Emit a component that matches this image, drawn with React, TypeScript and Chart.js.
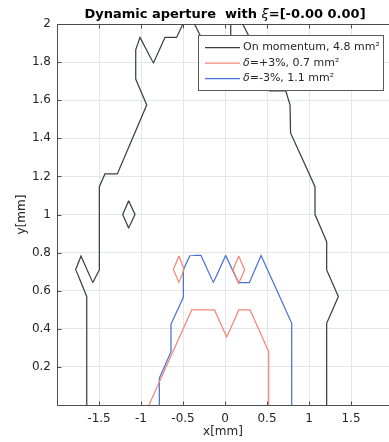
import React, { useEffect, useRef } from 'react';
import { Chart, registerables } from 'chart.js';

Chart.register(...registerables);

// ---- data (mm) ----
const onMomentumX = [-1.646, -1.646, -1.777, -1.714, -1.575, -1.496, -1.496, -1.429, -1.282, -0.932, -1.063, -1.063, -1.012, -0.853, -0.714, -0.575, -0.434, -0.298, -0.22, 0.0, 0.068, 0.068, 0.138, 0.277, 0.42, 0.53, 0.723, 0.774, 0.78, 1.071, 1.071, 1.21, 1.21, 1.349, 1.21, 1.21];
const onMomentumY = [0, 0.569, 0.712, 0.782, 0.642, 0.709, 1.146, 1.213, 1.213, 1.575, 1.711, 1.864, 1.93, 1.794, 1.93, 1.93, 2.063, 1.942, 1.87, 1.87, 1.93, 2.063, 2.063, 1.942, 1.78, 1.649, 1.649, 1.575, 1.428, 1.146, 1.0, 0.857, 0.709, 0.569, 0.429, 0];
const onMomentumIslandX = [-1.147, -1.071, -1.147, -1.218, -1.147];
const onMomentumIslandY = [1.072, 1.0, 0.929, 1.0, 1.072];

const plusX = [-0.905, -0.397, -0.125, 0.02, 0.165, 0.298, 0.52, 0.52];
const plusY = [0, 0.499, 0.499, 0.357, 0.499, 0.499, 0.28, 0];
const plusIslandAX = [-0.548, -0.488, -0.548, -0.615, -0.548];
const plusIslandAY = [0.782, 0.712, 0.642, 0.712, 0.782];
const plusIslandBX = [0.163, 0.234, 0.163, 0.095, 0.163];
const plusIslandBY = [0.782, 0.71, 0.64, 0.71, 0.782];

const minusX = [-0.782, -0.782, -0.643, -0.643, -0.496, -0.496, -0.417, -0.286, -0.139, 0.008, 0.159, 0.29, 0.429, 0.794, 0.794];
const minusY = [0, 0.14, 0.28, 0.425, 0.565, 0.71, 0.785, 0.785, 0.642, 0.785, 0.642, 0.642, 0.785, 0.429, 0];

const xTickValues = [-1.5, -1, -0.5, 0, 0.5, 1, 1.5];
const legendLabels = ['On momentum, 4.8 mm²', 'δ=+3%, 0.7 mm²', 'δ=-3%, 1.1 mm²'];
const titlePrefix = 'Dynamic aperture  with ';
const titleSymbol = 'ξ';
const titleSuffix = '=[-0.00 0.00]';
const xTitle = 'x[mm]';
const yTitle = 'y[mm]';

const X_MIN = -2;
const X_MAX = 1.952; // the right part of the axes is cut off by the picture edge
const COLORS = ['#3c4040', '#f4877a', '#4a72d6'];
const FONT = "'DejaVu Sans', sans-serif";
const TEXT = '#262626';
const GRID = '#e4e7ea';

function pts(xs: number[], ys: number[]) {
  return xs.map((x, i) => ({ x, y: ys[i] }));
}

function ds(xs: number[], ys: number[], color: string) {
  return {
    data: pts(xs, ys),
    borderColor: color,
    backgroundColor: color,
    borderWidth: 1.25,
    pointRadius: 0,
    pointHoverRadius: 0,
    tension: 0.000001,
    fill: false,
  };
}

export default function App() {
  const ref = useRef<HTMLCanvasElement>(null);

  useEffect(() => {
    if (!ref.current) return;

    const frame = {
      id: 'matlabFrame',
      beforeDatasetsDraw(chart: any) {
        const { ctx, chartArea: a } = chart;
        const xs = chart.scales.x;
        const ys = chart.scales.y;
        const L = Math.round(a.left) + 0.5;
        const T = Math.round(a.top) + 0.5;
        const B = Math.round(a.bottom) + 0.5;
        ctx.save();
        ctx.strokeStyle = '#4d4d4d';
        ctx.lineWidth = 1;
        ctx.beginPath();
        const tl = 4;
        xTickValues.forEach((v) => {
          const px = Math.round(xs.getPixelForValue(v)) + 0.5;
          ctx.moveTo(px, B);
          ctx.lineTo(px, B - tl);
          ctx.moveTo(px, T);
          ctx.lineTo(px, T + tl);
        });
        ys.ticks.forEach((t: any) => {
          const py = Math.round(ys.getPixelForValue(t.value)) + 0.5;
          ctx.moveTo(L, py);
          ctx.lineTo(L + tl, py);
        });
        // axes box: top, left, bottom (right side lies beyond the picture)
        ctx.moveTo(a.right + 2, T);
        ctx.lineTo(L, T);
        ctx.lineTo(L, B);
        ctx.lineTo(a.right + 2, B);
        ctx.stroke();
        ctx.restore();
      },
      afterDatasetsDraw(chart: any) {
        const { ctx, chartArea: a } = chart;
        const xs = chart.scales.x;
        // title centred over the full axes (x from -2 to 2), italic symbol
        const cx = xs.getPixelForValue(0);
        ctx.save();
        ctx.fillStyle = '#000';
        ctx.textBaseline = 'middle';
        ctx.textAlign = 'left';
        const bold = `bold 13px ${FONT}`;
        const ital = `italic 13px ${FONT}`;
        ctx.font = bold;
        const w1 = ctx.measureText(titlePrefix).width;
        const w3 = ctx.measureText(titleSuffix).width;
        ctx.font = ital;
        const w2 = ctx.measureText(titleSymbol).width;
        let tx = cx - (w1 + w2 + w3) / 2;
        const ty = a.top - 9;
        ctx.font = bold;
        ctx.fillText(titlePrefix, tx, ty);
        tx += w1;
        ctx.font = ital;
        ctx.fillText(titleSymbol, tx, ty);
        tx += w2;
        ctx.font = bold;
        ctx.fillText(titleSuffix, tx, ty);
        ctx.restore();

        // legend box
        const w = 185;
        const h = 55;
        const x0 = Math.round(xs.getPixelForValue(2) - 10 - w);
        const y0 = Math.round(a.top + 11);
        ctx.save();
        ctx.fillStyle = '#ffffff';
        ctx.fillRect(x0, y0, w, h);
        ctx.strokeStyle = '#5a5a5a';
        ctx.lineWidth = 1;
        ctx.strokeRect(x0 + 0.5, y0 + 0.5, w, h);
        legendLabels.forEach((label, i) => {
          const yy = y0 + 12.5 + i * 15.5;
          ctx.strokeStyle = COLORS[i];
          ctx.lineWidth = 1.25;
          ctx.beginPath();
          ctx.moveTo(x0 + 7, yy);
          ctx.lineTo(x0 + 42, yy);
          ctx.stroke();
          ctx.fillStyle = TEXT;
          ctx.textBaseline = 'middle';
          ctx.textAlign = 'left';
          let lx = x0 + 45;
          let rest = label;
          if (label.startsWith('δ')) {
            ctx.font = `italic 11px ${FONT}`;
            ctx.fillText('δ', lx, yy);
            lx += ctx.measureText('δ').width;
            rest = label.slice(1);
          }
          ctx.font = `11px ${FONT}`;
          ctx.fillText(rest, lx, yy);
        });
        ctx.restore();
      },
    };

    const fmt = (v: number) => Number(v.toFixed(1)).toString();

    const chart = new Chart(ref.current, {
      type: 'line',
      data: {
        datasets: [
          ds(onMomentumX, onMomentumY, COLORS[0]),
          ds(onMomentumIslandX, onMomentumIslandY, COLORS[0]),
          ds(plusX, plusY, COLORS[1]),
          ds(plusIslandAX, plusIslandAY, COLORS[1]),
          ds(plusIslandBX, plusIslandBY, COLORS[1]),
          ds(minusX, minusY, COLORS[2]),
        ] as any,
      },
      options: {
        responsive: false,
        animation: false,
        events: [],
        layout: { padding: { left: 0, right: 0, top: 24, bottom: 0 } },
        plugins: {
          legend: { display: false },
          tooltip: { enabled: false },
          title: { display: false },
        },
        scales: {
          x: {
            type: 'linear',
            min: X_MIN,
            max: X_MAX,
            afterFit: (s: any) => {
              s.height = 37;
              s.paddingLeft = 0;
              s.paddingRight = 0;
            },
            border: { display: false },
            grid: { color: GRID, lineWidth: 1, drawTicks: false },
            ticks: {
              stepSize: 0.5,
              includeBounds: false,
              padding: 7,
              color: TEXT,
              font: { family: FONT, size: 12 },
              maxRotation: 0,
              autoSkip: false,
              callback: (v: any) => (xTickValues.some((t) => Math.abs(t - v) < 1e-6) ? fmt(v) : ''),
            },
            title: {
              display: true,
              text: xTitle,
              color: TEXT,
              font: { family: FONT, size: 12 },
              padding: { top: 0, bottom: 3 },
            },
          },
          y: {
            type: 'linear',
            min: 0,
            max: 2,
            afterFit: (s: any) => { s.width = 57; },
            border: { display: false },
            grid: { color: GRID, lineWidth: 1, drawTicks: false },
            ticks: {
              stepSize: 0.2,
              padding: 6,
              color: TEXT,
              font: { family: FONT, size: 12 },
              autoSkip: false,
              callback: (v: any) => (Math.abs(v) < 1e-9 ? '' : fmt(v)),
            },
            title: {
              display: true,
              text: yTitle,
              color: TEXT,
              font: { family: FONT, size: 12 },
              padding: { top: 15, bottom: 0 },
            },
          },
        },
      } as any,
      plugins: [frame],
    });

    return () => chart.destroy();
  }, []);

  return (
    <div style={{ position: 'fixed', left: 0, top: 0, width: 389, height: 442, overflow: 'hidden', background: '#fff' }}>
      <canvas ref={ref} width={389} height={442} style={{ display: 'block', width: 389, height: 442 }} />
    </div>
  );
}
